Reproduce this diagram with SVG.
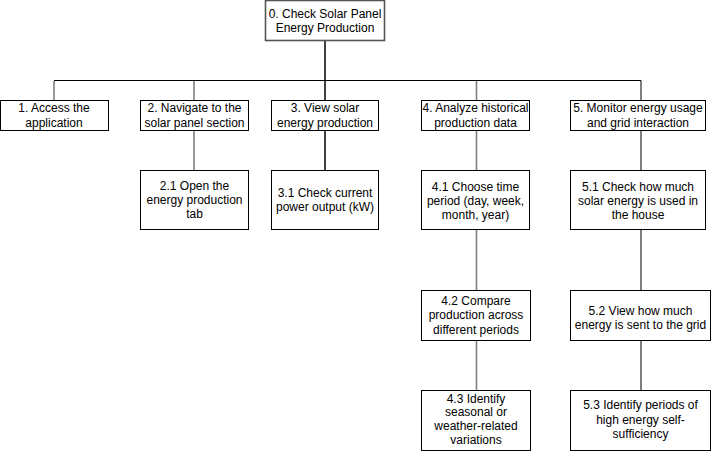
<svg xmlns="http://www.w3.org/2000/svg" width="712" height="452" viewBox="0 0 712 452">
<style>
.box{fill:#fff;stroke:#000;stroke-width:1}
.root{fill:#fff;stroke:#555;stroke-width:1.6}
text{font-family:"Liberation Sans",Arial,sans-serif;font-size:12px;fill:#000;text-anchor:middle}
.g{stroke:#808080;stroke-width:1.6;fill:none}
.d{stroke:#404040;stroke-width:2;fill:none}
.k{stroke:#000;stroke-width:1;fill:none}
</style>
<rect width="712" height="452" fill="#fff"/>
<g id="connectors">
<path class="k" d="M54 80.5H641"/>
<path class="d" d="M325 40V80"/>
<path class="g" d="M54 81V100"/>
<path class="g" d="M194 81V100"/>
<path class="d" d="M325 81V100"/>
<path class="g" d="M476.5 81V100"/>
<path class="k" d="M641 80.5V100"/>
<path class="g" d="M194 130V170"/>
<path class="d" d="M325 130V170"/>
<path class="g" d="M476.5 130V170"/>
<path class="k" d="M641 130V170"/>
<path class="g" d="M476.5 230V290"/>
<path class="k" d="M641 230V290"/>
<path class="g" d="M476.5 340V390"/>
<path class="k" d="M641 340V390"/>
</g>
<g id="n0"><rect class="root" x="265.5" y="0.5" width="119" height="40"/><text x="325" y="17.5">0. Check Solar Panel</text><text x="325" y="32">Energy Production</text></g>
<g id="n1"><rect class="box" x="0.5" y="100.5" width="108" height="30"/><text x="54" y="112">1. Access the</text><text x="54" y="126.5">application</text></g>
<g id="n2"><rect class="box" x="140.5" y="100.5" width="108" height="30"/><text x="194.5" y="112">2. Navigate to the</text><text x="194.5" y="126.5">solar panel section</text></g>
<g id="n3"><rect class="box" x="271.5" y="100.5" width="107" height="30"/><text x="325" y="112">3. View solar</text><text x="325" y="126.5">energy production</text></g>
<g id="n4"><rect class="box" x="421.5" y="100.5" width="108" height="30"/><text x="475.5" y="112">4. Analyze historical</text><text x="475.5" y="126.5">production data</text></g>
<g id="n5"><rect class="box" x="570.5" y="100.5" width="135" height="30"/><text x="638" y="112">5. Monitor energy usage</text><text x="638" y="126.5">and grid interaction</text></g>
<g id="n21"><rect class="box" x="140.5" y="170.5" width="108" height="59"/><text x="194.5" y="190">2.1 Open the</text><text x="194.5" y="204">energy production</text><text x="194.5" y="218">tab</text></g>
<g id="n31"><rect class="box" x="271.5" y="170.5" width="107" height="59"/><text x="325" y="197">3.1 Check current</text><text x="325" y="211">power output (kW)</text></g>
<g id="n41"><rect class="box" x="421.5" y="170.5" width="108" height="59"/><text x="475.5" y="190.5">4.1 Choose time</text><text x="475.5" y="205">period (day, week,</text><text x="475.5" y="219">month, year)</text></g>
<g id="n51"><rect class="box" x="570.5" y="170.5" width="135" height="59"/><text x="638" y="190.5">5.1 Check how much</text><text x="638" y="205">solar energy is used in</text><text x="638" y="219">the house</text></g>
<g id="n42"><rect class="box" x="421.5" y="290.5" width="109" height="50"/><text x="476" y="304.5">4.2 Compare</text><text x="476" y="319">production across</text><text x="476" y="333.5">different periods</text></g>
<g id="n52"><rect class="box" x="570.5" y="290.5" width="140" height="50"/><text x="640.5" y="315">5.2 View how much</text><text x="640.5" y="329">energy is sent to the grid</text></g>
<g id="n43"><rect class="box" x="421.5" y="390.5" width="109" height="60"/><text x="476" y="402.5">4.3 Identify</text><text x="476" y="416">seasonal or</text><text x="476" y="430">weather-related</text><text x="476" y="444">variations</text></g>
<g id="n53"><rect class="box" x="570.5" y="390.5" width="140" height="60"/><text x="640.5" y="409">5.3 Identify periods of</text><text x="640.5" y="423.5">high energy self-</text><text x="640.5" y="438">sufficiency</text></g>
</svg>
